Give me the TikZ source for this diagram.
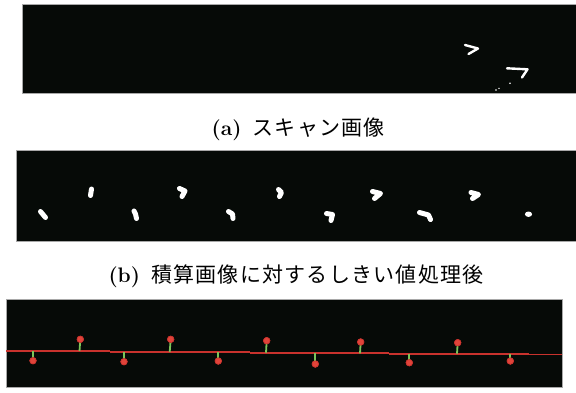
\documentclass[tikz,border=0pt]{standalone}
\usepackage{fontspec}
\newfontfamily\cjk[LetterSpace=6]{Noto Sans CJK JP}
\newcommand{\labfont}{\fontsize{21}{24}\selectfont\bfseries}
\newcommand{\cjkfont}{\cjk\fontsize{21}{24}\selectfont}
\definecolor{panelbg}{HTML}{060A07}
\definecolor{edge}{HTML}{A8A8A8}
\definecolor{fitred}{HTML}{C8322D}
\definecolor{dotred}{HTML}{E0443A}
\definecolor{stemgreen}{HTML}{7CC45A}
\tikzset{
  panel/.style={fill=panelbg, draw=edge, line width=0.8pt},
  blob/.style={draw=white, line width=5pt, line cap=round, line join=round},
  thinblob/.style={draw=white, line width=2.4pt, line cap=round, line join=round},
  caption/.style={anchor=base west, inner sep=0pt},
  peak/.style={circle, fill=dotred, draw=fitred, line width=0.6pt, minimum size=6.5pt, inner sep=0pt},
  stem/.style={draw=stemgreen, line width=1.8pt},
  fitline/.style={draw=fitred, line width=1.8pt}
}
\begin{document}
\begin{tikzpicture}[x=1pt, y=-1pt]
\useasboundingbox (0,0) rectangle (576,392);
% panel (a)
\path[panel] (22.8,4.7) rectangle (577,93.3);
\draw[thinblob] (465,45) -- (478,48.5) -- (468.5,54);
\draw[thinblob] (507,68.3) -- (527.5,69.3) -- (522,77.5);
\fill[white] (510,83.3) circle (0.9);
\fill[white] (496,90) circle (0.9);
\fill[white] (499,88.3) circle (0.8);
\node[caption] (capa) at (211.5,135.5) {{\labfont (a)}\hspace{11pt}{\cjkfont スキャン画像}};
% panel (b)
\path[panel] (16,150) rectangle (577,241);
\draw[blob] (40.5,211.5) -- (45.5,217.5);
\draw[blob] (91.5,189) -- (90.5,195.5);
\draw[blob] (134,211) -- (135.5,214) -- (136.5,218.5);
\draw[blob] (179.5,188.5) -- (185,191) -- (182,196.5);
\draw[blob] (278.5,189.5) -- (281.5,192.5) -- (279.5,196.5);
\draw[blob] (228.5,211.5) -- (232.5,214) -- (233,218.5);
\draw[blob] (326.5,213.5) -- (332.5,214.5) -- (331,220.5);
\draw[blob] (372.5,191.5) -- (380.5,193.5) -- (374.5,198.5);
\draw[blob] (419.5,212.5) -- (428.5,215) -- (430.5,219.5);
\draw[blob] (471,192.5) -- (478.5,194.5) -- (472.5,198.5);
\fill[white] (528.5,214.2) ellipse (3.6 and 2.7);
\node[caption] (capb) at (108.3,282.5) {{\labfont (b)}\hspace{11pt}{\cjkfont 積算画像に対するしきい値処理後}};
% panel (c)
\path[panel] (6,299.3) rectangle (562,387.7);
\draw[fitline] (6,351) -- (110,351);
\draw[fitline] (110,352) -- (180,352);
\draw[fitline] (180,352.3) -- (250,352.3);
\draw[fitline] (250,352.7) -- (320,352.7);
\draw[fitline] (320,353.3) -- (389,353.3);
\draw[fitline] (389,353.7) -- (459,353.7);
\draw[fitline] (459,354.1) -- (529,354.1);
\draw[fitline] (529,354.4) -- (562,354.4);
% feet on the fitted line
\coordinate (f1) at (33,351);
\coordinate (f2) at (79.5,351);
\coordinate (f3) at (124,352);
\coordinate (f4) at (169.7,352);
\coordinate (f5) at (218.3,352.3);
\coordinate (f6) at (266,352.7);
\coordinate (f7) at (315.3,352.7);
\coordinate (f8) at (360,353.3);
\coordinate (f9) at (409.3,353.7);
\coordinate (f10) at (457,353.7);
\coordinate (f11) at (510.3,354.1);
% peaks
\node[peak] (p1) at (33,360.7) {};
\node[peak] (p2) at (80.3,339.3) {};
\node[peak] (p3) at (124,361.7) {};
\node[peak] (p4) at (170.7,339.3) {};
\node[peak] (p5) at (218.3,361) {};
\node[peak] (p6) at (266.7,340.7) {};
\node[peak] (p7) at (315.3,364) {};
\node[peak] (p8) at (360.7,342) {};
\node[peak] (p9) at (409.3,362.7) {};
\node[peak] (p10) at (457.7,342.7) {};
\node[peak] (p11) at (510.3,361) {};
\foreach \i in {1,...,11} {\draw[stem] (f\i) -- (p\i.center);}
\foreach \i in {1,...,11} {\node[peak] at (p\i) {};}
\end{tikzpicture}
\end{document}
